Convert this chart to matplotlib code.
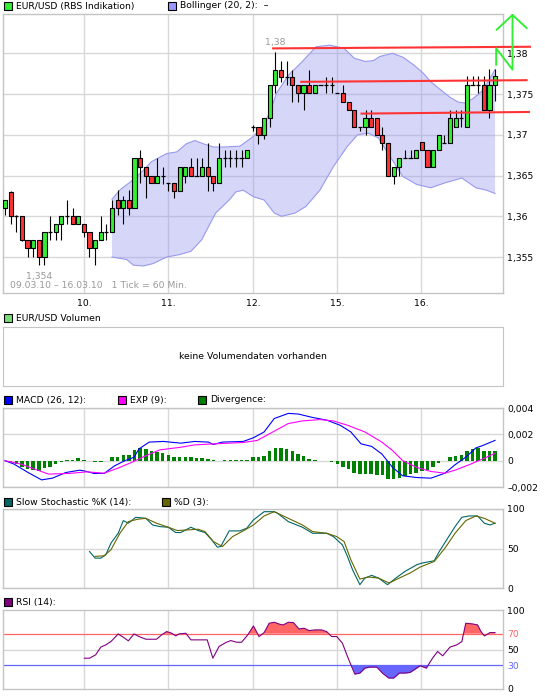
import numpy as np
import matplotlib
matplotlib.use('Agg')
import matplotlib.pyplot as plt
from matplotlib.patches import Rectangle

plt.rcParams['font.family'] = ['DejaVu Sans']
FS = 6.7
W, H = 545, 698

# ---------------- data ----------------
opens = [1.3610, 1.3630, 1.3600, 1.3600, 1.3571, 1.3561, 1.3571, 1.3550, 1.3581, 1.3581,
         1.3590, 1.3600, 1.3600, 1.3590, 1.3590, 1.3581, 1.3561, 1.3571, 1.3581, 1.3581,
         1.3620, 1.3610, 1.3620, 1.3610, 1.3671, 1.3660, 1.3650, 1.3641, 1.3650, 1.3641,
         1.3641, 1.3631, 1.3650, 1.3660, 1.3650, 1.3650, 1.3660, 1.3650, 1.3641, 1.3671,
         1.3671, 1.3671, 1.3671, 1.3671, 1.3710, 1.3710, 1.3700, 1.3720, 1.3761, 1.3780,
         1.3771, 1.3771, 1.3761, 1.3751, 1.3761, 1.3751, 1.3761, 1.3761, 1.3761, 1.3751,
         1.3751, 1.3740, 1.3730, 1.3710, 1.3710, 1.3720, 1.3720, 1.3700, 1.3690, 1.3650,
         1.3660, 1.3671, 1.3671, 1.3671, 1.3691, 1.3681, 1.3660, 1.3681, 1.3690, 1.3690,
         1.3710, 1.3720, 1.3710, 1.3761, 1.3761, 1.3761, 1.3730, 1.3761]
closes = [1.3620, 1.3600, 1.3600, 1.3571, 1.3561, 1.3571, 1.3550, 1.3581, 1.3581, 1.3590,
          1.3600, 1.3600, 1.3590, 1.3600, 1.3581, 1.3561, 1.3571, 1.3581, 1.3581, 1.3610,
          1.3610, 1.3620, 1.3610, 1.3671, 1.3660, 1.3650, 1.3641, 1.3650, 1.3650, 1.3641,
          1.3631, 1.3660, 1.3660, 1.3650, 1.3650, 1.3660, 1.3650, 1.3641, 1.3671, 1.3671,
          1.3671, 1.3671, 1.3671, 1.3681, 1.3710, 1.3700, 1.3720, 1.3761, 1.3780, 1.3771,
          1.3771, 1.3761, 1.3751, 1.3761, 1.3751, 1.3761, 1.3761, 1.3761, 1.3761, 1.3751,
          1.3740, 1.3730, 1.3710, 1.3710, 1.3720, 1.3710, 1.3700, 1.3690, 1.3650, 1.3660,
          1.3671, 1.3671, 1.3671, 1.3681, 1.3681, 1.3660, 1.3681, 1.3700, 1.3690, 1.3720,
          1.3720, 1.3720, 1.3761, 1.3761, 1.3761, 1.3730, 1.3761, 1.3772]
highs = [1.3620, 1.3631, 1.3601, 1.3600, 1.3571, 1.3571, 1.3571, 1.3581, 1.3600, 1.3590,
         1.3600, 1.3620, 1.3610, 1.3600, 1.3590, 1.3581, 1.3571, 1.3600, 1.3590, 1.3620,
         1.3632, 1.3625, 1.3632, 1.3671, 1.3681, 1.3660, 1.3650, 1.3671, 1.3660, 1.3641,
         1.3641, 1.3660, 1.3660, 1.3671, 1.3671, 1.3671, 1.3690, 1.3650, 1.3690, 1.3681,
         1.3681, 1.3681, 1.3681, 1.3681, 1.3712, 1.3710, 1.3720, 1.3761, 1.3801, 1.3790,
         1.3790, 1.3780, 1.3761, 1.3761, 1.3780, 1.3761, 1.3761, 1.3771, 1.3771, 1.3751,
         1.3761, 1.3740, 1.3730, 1.3710, 1.3730, 1.3730, 1.3720, 1.3710, 1.3690, 1.3660,
         1.3671, 1.3681, 1.3681, 1.3681, 1.3691, 1.3681, 1.3681, 1.3700, 1.3700, 1.3730,
         1.3730, 1.3730, 1.3772, 1.3772, 1.3772, 1.3772, 1.3781, 1.3781]
lows = [1.3601, 1.3590, 1.3581, 1.3570, 1.3550, 1.3550, 1.3540, 1.3540, 1.3571, 1.3571,
        1.3571, 1.3590, 1.3590, 1.3590, 1.3575, 1.3550, 1.3540, 1.3571, 1.3571, 1.3581,
        1.3601, 1.3590, 1.3601, 1.3610, 1.3641, 1.3622, 1.3641, 1.3641, 1.3640, 1.3631,
        1.3622, 1.3631, 1.3641, 1.3650, 1.3650, 1.3650, 1.3631, 1.3631, 1.3641, 1.3660,
        1.3660, 1.3660, 1.3660, 1.3671, 1.3705, 1.3689, 1.3695, 1.3710, 1.3751, 1.3765,
        1.3761, 1.3740, 1.3740, 1.3730, 1.3751, 1.3751, 1.3761, 1.3751, 1.3751, 1.3751,
        1.3740, 1.3730, 1.3710, 1.3705, 1.3700, 1.3710, 1.3700, 1.3681, 1.3650, 1.3640,
        1.3650, 1.3671, 1.3671, 1.3671, 1.3681, 1.3660, 1.3660, 1.3681, 1.3690, 1.3690,
        1.3710, 1.3710, 1.3710, 1.3761, 1.3751, 1.3730, 1.3720, 1.3741]

day_pos = [14.1, 29.0, 44.1, 59.0, 73.9]
day_labels = ['10.', '11.', '12.', '15.', '16.']
price_ticks = [1.355, 1.36, 1.365, 1.37, 1.375, 1.38]
price_labels = ['1,355', '1,36', '1,365', '1,37', '1,375', '1,38']

boll_up_x = [19.0, 20.5, 22.8, 24.5, 26.0, 28.7, 30.5, 32.2, 33.7, 35.2, 37.0, 38.7, 41.7,
             44.1, 46.0, 47.2, 48.2, 50.3, 52.8, 55.2, 57.7, 60.2, 62.0, 63.9, 65.4,
             66.5, 68.8, 70.7, 72.5, 74.2, 75.6, 77.2, 79.0, 80.5, 81.6, 83.0, 84.6, 86.0, 87.0]
boll_up_y = [1.3621, 1.3633, 1.3645, 1.3656, 1.3667, 1.3677, 1.3679, 1.3689, 1.3693, 1.3689,
             1.3685, 1.3685, 1.3686, 1.3698, 1.3712, 1.3731, 1.3751, 1.3773, 1.3790, 1.3808,
             1.3810, 1.3806, 1.3794, 1.3790, 1.3791, 1.3796, 1.3800, 1.3795, 1.3786, 1.3776,
             1.3765, 1.3756, 1.3746, 1.3740, 1.3739, 1.3744, 1.3753, 1.3768, 1.3780]
boll_lo_x = [19.0, 21.6, 22.8, 24.5, 26.3, 28.7, 31.0, 33.0, 34.9, 37.4, 39.8, 41.0, 42.3,
             44.1, 46.0, 47.8, 49.1, 51.5, 53.4, 55.9, 58.3, 60.8, 62.6, 64.5, 66.3, 68.2,
             70.6, 73.1, 75.6, 78.1, 81.1, 83.6, 85.5, 87.0]
boll_lo_y = [1.3550, 1.3547, 1.3540, 1.3539, 1.3542, 1.3550, 1.3553, 1.3557, 1.3571, 1.3604,
             1.3620, 1.3630, 1.3632, 1.3624, 1.3620, 1.3604, 1.3600, 1.3604, 1.3612, 1.3632,
             1.3661, 1.3686, 1.3700, 1.3702, 1.3696, 1.3675, 1.3649, 1.3639, 1.3635, 1.3641,
             1.3647, 1.3635, 1.3632, 1.3628]

trend_x = [[47.6, 93.2], [52.6, 92.6], [63.3, 93.0]]
trend_y = [[1.3806, 1.3808], [1.3765, 1.3767], [1.3726, 1.3728]]
arrow_x = [87.2, 87.2, 90.1, 90.1]
arrow_y = [1.3786, 1.3806, 1.3780, 1.3847]
head_x = [87.3, 90.1, 92.6]
head_y = [1.3829, 1.3847, 1.3831]

macd_x = [0, 1.6, 4.1, 6.5, 8.4, 10.8, 13.3, 14.5, 15.8, 17.6, 19.5, 21.3, 22.9, 23.8, 25.6,
          28.1, 31.2, 33.7, 36.1, 37.0, 38.6, 42.3, 44.1, 46.0, 47.8, 50.3, 52.1, 54.6, 57.1,
          59.5, 61.4, 63.2, 65.1, 66.9, 68.8, 70.6, 73.1, 75.6, 78.1, 79.9, 81.8, 83.6, 84.8, 87.0]
macd_y = [0, -0.00026, -0.0009, -0.00146, -0.00133, -0.0009, -0.00072, -0.00082, -0.00097,
          -0.00097, -0.00038, 0.0, 0.00026, 0.0009, 0.00141, 0.00146, 0.00133, 0.00146, 0.00141,
          0.00123, 0.00141, 0.00146, 0.00174, 0.00218, 0.0032, 0.00359, 0.00354, 0.00328,
          0.00308, 0.00269, 0.00218, 0.00128, 0.00108, 0.00051, -0.00051, -0.00115, -0.00128,
          -0.00133, -0.00095, -0.00031, 0.00026, 0.00097, 0.00115, 0.00154]
exp_x = [0, 2.8, 5.3, 7.7, 11.4, 14.5, 17.6, 20.1, 22.5, 25.0, 27.5, 31.2, 33.7, 37.3, 42.3,
         44.8, 47.2, 50.3, 52.8, 55.9, 58.3, 60.8, 63.9, 66.9, 68.8, 70.6, 73.1, 75.6, 78.1,
         79.9, 82.4, 84.8, 87.0]
exp_y = [0, -0.00026, -0.00064, -0.00102, -0.00097, -0.00085, -0.00095, -0.00056, -0.00013,
         0.00038, 0.00082, 0.00102, 0.0012, 0.00128, 0.00138, 0.00154, 0.0021, 0.00282,
         0.00302, 0.00312, 0.00302, 0.00269, 0.00218, 0.00141, 0.00077, 0.0, -0.00051,
         -0.00082, -0.00095, -0.00072, -0.00031, 0.00013, 0.00056]
divergence = [0, -0.00013, -0.00026, -0.00051, -0.00064, -0.00072, -0.00077, -0.00056, -0.00046,
              -0.00026, -0.00008, 0.00008, 0.00008, 0.0002, 0.00008, -0.00005, -0.00008, -0.00008,
              0.0, 0.00026, 0.00031, 0.00044, 0.00044, 0.00082, 0.00097, 0.0009, 0.00077, 0.00064,
              0.00059, 0.00044, 0.00026, 0.00031, 0.00031, 0.00026, 0.0002, 0.00018, 0.00013,
              0.00005, 0.0, 0.00008, 0.00008, 0.00008, 0.00008, 0.00008, 0.00026, 0.00026, 0.00038,
              0.00072, 0.00097, 0.00097, 0.0009, 0.00077, 0.00051, 0.00033, 0.00013, 0.00008, 0.0,
              -0.00003, -0.00008, -0.00026, -0.00046, -0.00064, -0.00097, -0.00102, -0.00102,
              -0.00102, -0.00108, -0.0011, -0.00141, -0.00141, -0.00133, -0.00115, -0.00102,
              -0.0009, -0.00077, -0.00072, -0.00051, -0.0002, 0.0, 0.00026, 0.00038, 0.00046,
              0.00072, 0.0009, 0.00097, 0.00077, 0.00077, 0.00077]

stk_x = [15.0, 16.0, 17.0, 17.9, 18.8, 20.1, 21.0, 21.9, 23.2, 25.0, 26.2, 27.5, 29.0, 30.3,
         31.2, 33.0, 34.3, 35.5, 36.7, 37.7, 38.3, 39.8, 41.7, 42.9, 44.1, 46.0, 47.8, 48.4,
         50.3, 52.8, 54.6, 57.1, 58.3, 59.9, 60.8, 61.7, 63.0, 63.9, 65.1, 66.3, 67.9, 69.4,
         71.0, 73.1, 74.0, 76.2, 77.1, 78.7, 79.9, 81.1, 82.4, 83.9, 85.1, 86.1, 87.0]
stk_y = [46.2, 37.8, 37.8, 42.0, 56.7, 69.3, 85.3, 82.0, 89.5, 88.2, 79.8, 77.7, 76.9, 70.2,
         70.2, 76.9, 72.7, 70.2, 61.0, 51.7, 52.5, 72.3, 72.3, 75.6, 86.1, 96.6, 96.6, 94.5,
         84.0, 76.9, 69.3, 69.3, 65.1, 54.6, 39.9, 23.1, 4.2, 12.6, 16.0, 12.6, 4.2, 12.6,
         21.0, 29.4, 31.5, 34.5, 46.2, 64.3, 77.7, 89.5, 91.2, 91.2, 82.0, 79.8, 82.0]
std_x = [16.0, 17.6, 18.8, 20.4, 21.9, 23.5, 25.0, 26.9, 29.0, 30.6, 32.4, 34.3, 35.5, 37.0,
         38.6, 40.4, 42.3, 44.1, 46.0, 47.8, 50.3, 52.8, 54.6, 57.1, 58.9, 60.2, 61.4, 63.0,
         64.5, 66.3, 68.2, 70.0, 71.9, 73.7, 76.2, 78.1, 79.9, 81.8, 83.6, 85.1, 87.0]
std_y = [40.0, 40.8, 48.3, 69.3, 84.0, 87.0, 88.2, 82.0, 76.9, 72.7, 73.5, 74.4, 71.4, 58.8,
         52.5, 65.1, 72.3, 79.8, 91.2, 96.6, 88.2, 79.8, 71.4, 69.3, 65.1, 58.8, 35.7, 11.3,
         13.9, 12.6, 6.3, 12.6, 18.9, 26.5, 33.6, 50.4, 69.3, 85.3, 91.2, 88.2, 82.0]

rsi_x = [14.1, 15.0, 16.1, 17.0, 17.9, 18.8, 20.1, 21.0, 21.9, 22.9, 23.8, 25.0, 26.9, 27.8,
         28.7, 29.6, 30.3, 30.9, 32.1, 33.0, 34.3, 35.9, 36.9, 38.0, 39.2, 40.1, 41.1, 42.0,
         43.1, 44.1, 45.1, 46.0, 46.9, 47.8, 48.8, 49.4, 50.3, 51.2, 52.2, 53.1, 54.0, 55.0,
         56.2, 57.1, 58.0, 58.9, 59.9, 60.8, 61.4, 62.1, 63.0, 63.9, 64.8, 66.0, 67.0, 68.1,
         69.0, 70.0, 71.0, 71.9, 72.8, 73.7, 74.8, 75.9, 76.8, 77.7, 79.0, 80.2, 81.1, 81.8,
         83.0, 83.9, 84.5, 85.1, 86.1, 87.0]
rsi_y = [39.0, 39.0, 43.3, 53.0, 55.9, 60.0, 69.7, 65.5, 61.0, 69.7, 66.4, 63.0, 63.0, 68.5,
         72.7, 70.6, 67.2, 69.7, 70.6, 62.2, 62.2, 62.2, 39.0, 53.8, 58.8, 61.3, 59.2, 59.2,
         68.5, 79.8, 66.4, 71.4, 83.2, 84.5, 81.9, 81.1, 84.5, 84.0, 76.0, 76.9, 73.9, 74.8,
         74.8, 72.7, 66.4, 66.4, 58.0, 41.2, 30.7, 18.9, 20.2, 26.5, 27.7, 27.7, 20.2, 13.9,
         13.9, 20.2, 20.2, 21.0, 25.2, 29.4, 26.5, 39.0, 47.5, 42.0, 53.0, 55.9, 60.0, 83.2,
         82.4, 81.1, 72.7, 67.2, 71.4, 71.4]

# ---------------- layout helpers ----------------
fig = plt.figure(figsize=(W / 100, H / 100), dpi=100)
XL = (-0.355, 88.41)
SPINE = '#c4c4c4'
GRID = '#d8d8d8'


def box(l, t, r, b):
    return [l / W, 1 - b / H, (r - l) / W, (b - t) / H]


def style(ax, show_xlabels=False, grid_y=True):
    ax.set_xlim(*XL)
    for s in ax.spines.values():
        s.set_color(SPINE)
        s.set_linewidth(1.0)
    ax.set_axisbelow(True)
    ax.set_xticks(day_pos)
    if show_xlabels:
        ax.set_xticklabels(day_labels, fontsize=FS)
    else:
        ax.set_xticklabels([])
    ax.tick_params(axis='both', length=0, labelsize=FS, pad=3.2)
    ax.yaxis.tick_right()
    ax.grid(True, axis='x', color=GRID, lw=1.0)
    if grid_y:
        ax.grid(True, axis='y', color=GRID, lw=1.0)


def legend_item(x, y, text, color):
    fig.add_artist(Rectangle((x / W, 1 - (y + 4) / H), 8 / W, 8 / H,
                             transform=fig.transFigure, facecolor=color,
                             edgecolor='black', lw=0.8))
    fig.text((x + 12) / W, 1 - y / H, text, fontsize=FS, va='center', ha='left')


GREEN = '#33ee33'
RED = '#ff3333'

# ---------------- main panel ----------------
ax = fig.add_axes(box(3, 14, 503, 293))
style(ax, show_xlabels=True)
ax.set_ylim(1.35059, 1.38482)
ax.set_yticks(price_ticks)
ax.set_yticklabels(price_labels)
ax.tick_params(axis='x', pad=4)

bx = np.concatenate([boll_up_x, boll_lo_x[::-1]])
by = np.concatenate([boll_up_y, boll_lo_y[::-1]])
ax.fill(bx, by, color=(0.6, 0.6, 0.95, 0.4), lw=0, zorder=2)
ax.plot(boll_up_x, boll_up_y, color='#9999ee', lw=0.8, zorder=2.1)
ax.plot(boll_lo_x, boll_lo_y, color='#9999ee', lw=0.8, zorder=2.1)

idx = np.arange(len(opens))
o = np.array(opens); c = np.array(closes); hi = np.array(highs); lo = np.array(lows)
ax.vlines(idx, lo, hi, color='black', lw=0.8, zorder=3)
up = c > o
dn = c < o
eq = c == o
bw = 0.74
ax.bar(idx[up], (c - o)[up], bottom=o[up], width=bw, color=GREEN, edgecolor='black',
       lw=0.8, zorder=4)
ax.bar(idx[dn], (o - c)[dn], bottom=c[dn], width=bw, color=RED, edgecolor='black',
       lw=0.8, zorder=4)
ax.hlines(o[eq], idx[eq] - bw / 2, idx[eq] + bw / 2, color='black', lw=0.9, zorder=4)

for tx, ty in zip(trend_x, trend_y):
    ax.plot(tx, ty, color=RED, lw=1.5, clip_on=False, zorder=6)
ax.plot(arrow_x, arrow_y, color=GREEN, lw=1.4, clip_on=False, zorder=6)
ax.plot(head_x, head_y, color=GREEN, lw=1.4, clip_on=False, zorder=6)

imin = int(np.argmin(lo))
imax = int(np.argmax(hi))
ax.annotate('1,354', (idx[imin], lo[imin]), xytext=(0, -8), textcoords='offset points',
            ha='center', va='center', fontsize=FS, color='#999999')
ax.annotate('1,38', (idx[imax], hi[imax]), xytext=(0, 7), textcoords='offset points',
            ha='center', va='center', fontsize=FS, color='#999999')
ax.text(0.014, 0.028, '09.03.10 \u2013 16.03.10   1 Tick = 60 Min.', transform=ax.transAxes,
        fontsize=FS, color='#999999', va='center', ha='left')

legend_item(3.5, 6, 'EUR/USD (RBS Indikation)', GREEN)
legend_item(168, 6, 'Bollinger (20, 2):  \u2013', '#9999ff')

# ---------------- volume panel ----------------
axv = fig.add_axes(box(3, 327, 503, 386))
axv.set_xlim(*XL)
for s in axv.spines.values():
    s.set_color(SPINE)
axv.set_xticks([]); axv.set_yticks([])
axv.text(0.5, 0.5, 'keine Volumendaten vorhanden', transform=axv.transAxes,
         ha='center', va='center', fontsize=FS)
legend_item(3.5, 318, 'EUR/USD Volumen', '#77dd77')

# ---------------- MACD panel ----------------
axm = fig.add_axes(box(3, 408, 503, 487))
style(axm)
axm.set_ylim(-0.002, 0.004)
axm.set_yticks([-0.002, 0, 0.002, 0.004])
axm.set_yticklabels(['\u20130,002', '0', '0,002', '0,004'])
axm.bar(np.arange(len(divergence)), divergence, width=0.62, color='#008000', lw=0, zorder=2)
axm.plot(macd_x, macd_y, color='#0000ff', lw=0.8, zorder=3)
axm.plot(exp_x, exp_y, color='#ff00ff', lw=0.8, zorder=3)
legend_item(3.5, 400, 'MACD (26, 12):', '#0000ff')
legend_item(118, 400, 'EXP (9):', '#ff00ff')
legend_item(198, 400, 'Divergence:', '#008000')

# ---------------- Stochastic panel ----------------
axs = fig.add_axes(box(3, 509, 503, 588))
style(axs)
axs.set_ylim(0, 100)
axs.set_yticks([0, 50, 100])
axs.set_yticklabels(['0', '50', '100'])
axs.plot(stk_x, stk_y, color='#006666', lw=0.8, zorder=3)
axs.plot(std_x, std_y, color='#666600', lw=0.8, zorder=3)
legend_item(3.5, 502, 'Slow Stochastic %K (14):', '#006666')
legend_item(162, 502, '%D (3):', '#666600')

# ---------------- RSI panel ----------------
axr = fig.add_axes(box(3, 610, 503, 689))
style(axr, grid_y=False)
axr.set_ylim(0, 100)
axr.set_yticks([0, 30, 50, 70, 100])
axr.set_yticklabels(['0', '30', '50', '70', '100'])
tl = axr.get_yticklabels()
tl[1].set_color('#6666ff')
tl[3].set_color('#ff6666')
axr.axhline(50, color=GRID, lw=1.0, zorder=1)
axr.axhline(70, color='#ff6666', lw=0.9, zorder=2)
axr.axhline(30, color='#6666ff', lw=0.9, zorder=2)
rx = np.array(rsi_x); ry = np.array(rsi_y)
axr.fill_between(rx, ry, 70, where=ry > 70, interpolate=True, color='#ff6666', lw=0, zorder=2)
axr.fill_between(rx, ry, 30, where=ry < 30, interpolate=True, color='#6666ff', lw=0, zorder=2)
axr.plot(rx, ry, color='#800080', lw=0.8, zorder=3)
legend_item(3.5, 602, 'RSI (14):', '#800080')

fig.savefig('out.png', dpi=100)
